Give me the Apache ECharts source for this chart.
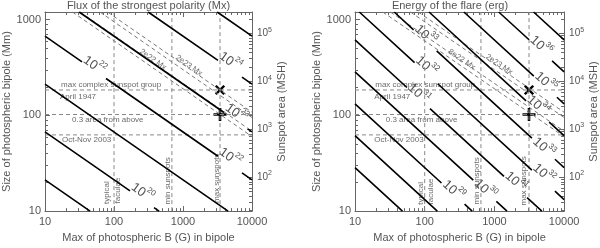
<!DOCTYPE html>
<html><head><meta charset="utf-8">
<script src="https://cdn.jsdelivr.net/npm/echarts@6/dist/echarts.min.js"></script>
<style>html,body{margin:0;padding:0;background:#fff}#c{width:600px;height:248px}</style>
</head><body><div id="c"></div>
<script>
// ---------- data ----------
// Left panel: flux contours (B [G], L [Mm]) segments, gaps where labels sit
const fluxSegments = [
  [[10,21.2],[45,10]],
  [[10,67.1],[170.6,16.24]], [[380.2,10.88],[450,10]],
  [[10,212],[4500,10]],
  [[10,671],[34.4,361.7]], [[76.6,242.4],[3214,37.42]], [[7161,25.07],[10000,21.2]],
  [[31.25,1200],[3926,107.1]], [[8750,71.7],[10000,67.1]],
  [[312.5,1200],[3214,374.2]], [[7161,250.7],[10000,212]],
  [[3125,1200],[10000,671]]
];
const fluxLabels = [[254.7,15.6,'20'],[51.3,331,'22'],[4797,36.4,'22'],[5860,105,'23'],[4797,364,'24']];
// Right panel: energy contours
const energySegments = [
  [[10,28.4],[48,10]],
  [[10,61.3],[151.7,10]],
  [[10,132],[174.2,19.64]], [[373.3,11.82],[480,10]],
  [[10,284.4],[497.5,21.02]], [[1067,12.64],[1517,10]],
  [[10,612.6],[55.6,195.2]], [[119.1,117.5],[1374,23.0]], [[2944,13.84],[4796,10]],
  [[11.54,1200],[71.6,355.3]], [[153.5,213.7],[3451,26.82]], [[7396,16.14],[10000,13.2]],
  [[36.5,1200],[69.3,782.4]], [[148.6,470.4],[3451,57.8]], [[7396,34.77],[10000,28.4]],
  [[115.4,1200],[2851,141.4]], [[6109,85.1],[10000,61.3]],
  [[364.8,1200],[3681,257.0]], [[7889,154.6],[10000,132]],
  [[1154,1200],[3140,615.7]], [[6730,370.4],[10000,284.4]],
  [[3648,1200],[10000,612.6]]
];
const energyLabels = [[255,16.4,'29'],[728,16.8,'30'],[2010,20.2,'31'],[5050,24.5,'32'],[5050,46,'33'],
  [81.3,168,'31'],[105,324,'32'],[102,687,'33'],[4170,126,'34'],[5380,222,'35'],[4590,530,'36']];
// dashed flux lines (pairs around 8e22 Mx and 2e23 Mx)
const dashedFlux = [
  [[25,1200],[10000,60]], [[32.3,1200],[10000,68.2]],
  [[62.5,1200],[10000,94.9]], [[80.6,1200],[10000,107.7]]
];
const dashLabelsLeft = [[367,382,'2e22 Mx'],[1222,331,'2e23 Mx']];
const dashLabelsRight = [[340,382,'8e22 Mx'],[1172,340,'2e23 Mx']];
// reference lines
const refBLeft = [100, 690, 3440];
const refBRight = [100, 641, 3140];
const refL = [184, 102, 62.5];
// annotations
const notesLeft = [[17.1,207,'max complex sunspot group'],[16.5,156,'April 1947'],[24.6,88.9,'0.3 area from above'],[17.6,55.6,'Oct-Nov 2003']];
const notesRight = [[19.5,207,'max complex sunspot group'],[18.9,156,'April 1947'],[27.6,88.9,'0.3 area from above'],[18.9,55.6,'Oct-Nov 2003']];
const vnotesLeft = [[79.3,15.6,'typical'],[114,16.4,'faculae'],[607,20.7,'min sunspots'],[3110,22,'max sunspots']];
const vnotesRight = [[86.7,15.3,'typical'],[123,16.0,'faculae'],[565,20.7,'min sunspots'],[2680,20.7,'max sunspots']];
const plusLeft = [[3440,102]], crossLeft = [[3440,184]];
const plusRight = [[3140,102]], crossRight = [[3140,184]];
// axes
const bRange = [10, 10000];
const lRange = [10, 1200];
const areaRange = [19.3, 277900];
const minorB = [20,30,40,50,60,70,80,90,200,300,400,500,600,700,800,900,2000,3000,4000,5000,6000,7000,8000,9000];
const minorL = [20,30,40,50,60,70,80,90,200,300,400,500,600,700,800,900];
const minorArea = [20,30,40,50,60,70,80,90,200,300,400,500,600,700,800,900,2000,3000,4000,5000,6000,7000,8000,9000,
  20000,30000,40000,50000,60000,70000,80000,90000,200000];
// ---------- chart ----------
const FONT = 'Liberation Sans';
const TXT = '#555';
const FRAME = '#666';
function isPow10(v){const l=Math.log10(v);return Math.abs(l-Math.round(l))<1e-6;}
function segData(segs){const d=[];segs.forEach(s=>{s.forEach(p=>d.push(p));d.push('-');});return d;}
function refData(bs, ls){const segs=[];bs.forEach(b=>segs.push([[b,lRange[0]],[b,lRange[1]]]));ls.forEach(l=>segs.push([[bRange[0],l],[bRange[1],l]]));return segData(segs);}
const supRich = {b:{fontSize:13,fontFamily:FONT,color:'#222',lineHeight:20},s:{fontSize:8,fontFamily:FONT,color:'#222',verticalAlign:'top',lineHeight:9}};

function panelAxes(gi){
  const xs=[{gridIndex:gi,type:'log',min:bRange[0],max:bRange[1],position:'bottom',
      name:'Max of photospheric B (G) in bipole',nameLocation:'middle',nameGap:17,
      nameTextStyle:{fontSize:11,fontFamily:FONT,color:TXT},
      axisLine:{lineStyle:{color:FRAME,width:1}},axisTick:{inside:true,length:5,lineStyle:{color:FRAME}},
      axisLabel:{fontSize:11,fontFamily:FONT,color:TXT,margin:5,formatter:v=>isPow10(v)?String(Math.round(v)):''},splitLine:{show:false}},
    {gridIndex:gi,type:'log',min:bRange[0],max:bRange[1],position:'top',
      axisLine:{lineStyle:{color:FRAME,width:1}},axisTick:{inside:true,length:5,lineStyle:{color:FRAME}},
      axisLabel:{show:false},splitLine:{show:false}}];
  const ys=[{gridIndex:gi,type:'log',min:lRange[0],max:lRange[1],position:'left',
      name:'Size of photospheric bipole (Mm)',nameLocation:'middle',nameGap:32,nameRotate:90,
      nameTextStyle:{fontSize:11,fontFamily:FONT,color:TXT},
      axisLine:{lineStyle:{color:FRAME,width:1}},axisTick:{inside:true,length:5,lineStyle:{color:FRAME}},
      axisLabel:{fontSize:11,fontFamily:FONT,color:TXT,margin:4,formatter:v=>isPow10(v)?String(Math.round(v)):''},splitLine:{show:false}},
    {gridIndex:gi,type:'log',min:areaRange[0],max:areaRange[1],position:'right',
      name:'Sunspot area (MSH)',nameLocation:'middle',nameGap:gi===0?24:20,nameRotate:90,
      nameTextStyle:{fontSize:11,fontFamily:FONT,color:TXT},
      axisLine:{lineStyle:{color:FRAME,width:1}},axisTick:{inside:true,length:5,lineStyle:{color:FRAME}},
      axisLabel:{margin:5,formatter:v=>isPow10(v)?'{b|10}{s|'+Math.round(Math.log10(v))+'}':'',
        rich:{b:{fontSize:10,fontFamily:FONT,color:TXT,lineHeight:14},s:{fontSize:7,fontFamily:FONT,color:TXT,verticalAlign:'top',lineHeight:8}}},
      splitLine:{show:false}}];
  return {xs, ys};
}
const a0=panelAxes(0), a1=panelAxes(1);

function tickSeries(xi, yi, vals, kind){
  return {type:'custom',xAxisIndex:xi,yAxisIndex:yi,silent:true,clip:false,
    data: vals.map(v=> kind==='x' ? [v,100] : (kind==='y' ? [bRange[0],v] : [bRange[1],v])),
    renderItem:(params,api)=>{
      const cs=params.coordSys;
      const st={stroke:FRAME,lineWidth:1};
      if(kind==='x'){
        const x=Math.round(api.coord([api.value(0),100])[0])+0.5;
        return {type:'group',children:[
          {type:'line',shape:{x1:x,y1:cs.y+cs.height,x2:x,y2:cs.y+cs.height-3},style:st},
          {type:'line',shape:{x1:x,y1:cs.y,x2:x,y2:cs.y+3},style:st}]};
      }
      const y=Math.round(api.coord([api.value(0),api.value(1)])[1])+0.5;
      if(kind==='y') return {type:'line',shape:{x1:cs.x,y1:y,x2:cs.x+3,y2:y},style:st};
      return {type:'line',shape:{x1:cs.x+cs.width,y1:y,x2:cs.x+cs.width-3,y2:y},style:st};
    }};
}
function labelSeries(xi, yi, items, label){
  return {type:'scatter',xAxisIndex:xi,yAxisIndex:yi,silent:true,symbolSize:1,
    itemStyle:{color:'rgba(0,0,0,0)'},
    data: items.map(it=>({value:[it[0],it[1]],name:it[2]})),
    label:Object.assign({show:true,position:'inside',fontFamily:FONT},label)};
}
const PLUS='path://M-1.3,-6.5H1.3V-1.3H6.5V1.3H1.3V6.5H-1.3V1.3H-6.5V-1.3H-1.3Z';

function panelSeries(xi, yi, ytop, segs, labels, labRot, dashLabels, dashRot, refB, notes, vnotes, plus, cross){
  return [
    {type:'line',xAxisIndex:xi,yAxisIndex:yi,silent:true,symbol:'none',connectNulls:false,
      data:refData(refB, refL),lineStyle:{color:'#888',width:1,type:[4,3]}},
    {type:'line',xAxisIndex:xi,yAxisIndex:yi,silent:true,symbol:'none',connectNulls:false,
      data:segData(dashedFlux),lineStyle:{color:'#777',width:1,type:[4,3]}},
    {type:'line',xAxisIndex:xi,yAxisIndex:yi,silent:true,symbol:'none',connectNulls:false,
      data:segData(segs),lineStyle:{color:'#000',width:1.6}},
    labelSeries(xi,yi,labels,{rotate:labRot,formatter:p=>'{b|10}{s|'+p.name+'}',rich:supRich}),
    labelSeries(xi,yi,dashLabels,{rotate:dashRot,formatter:p=>p.name,fontSize:8,color:'#444'}),
    labelSeries(xi,yi,notes,{align:'left',formatter:p=>p.name,fontSize:8,color:'#444'}),
    labelSeries(xi,yi,vnotes,{rotate:90,formatter:p=>p.name,fontSize:8,color:'#444'}),
    {type:'scatter',xAxisIndex:xi,yAxisIndex:yi,silent:true,symbol:PLUS,symbolSize:13,itemStyle:{color:'#000',opacity:1},data:plus},
    {type:'scatter',xAxisIndex:xi,yAxisIndex:yi,silent:true,symbol:PLUS,symbolSize:12,symbolRotate:45,itemStyle:{color:'#000',opacity:1},data:cross},
    tickSeries(xi,yi,minorB,'x'),
    tickSeries(xi,yi,minorL,'y'),
    tickSeries(xi,ytop,minorArea,'a')
  ];
}

const chart = echarts.init(document.getElementById('c'), null, {renderer:'canvas'});
chart.setOption({
  animation:false,
  backgroundColor:'#fff',
  grid:[{left:45,top:12,width:207,height:204},{left:355,top:12,width:217,height:204}],
  xAxis:[a0.xs[0],a0.xs[1],a1.xs[0],a1.xs[1]],
  yAxis:[a0.ys[0],a0.ys[1],a1.ys[0],a1.ys[1]],
  graphic:[
    {type:'text',x:148.5,y:0,style:{text:'Flux of the strongest polarity (Mx)',fontSize:11,fontFamily:FONT,fill:TXT,textAlign:'center',textVerticalAlign:'top'}},
    {type:'text',x:450,y:0,style:{text:'Energy of the flare (erg)',fontSize:11,fontFamily:FONT,fill:TXT,textAlign:'center',textVerticalAlign:'top'}}
  ],
  series:[].concat(
    panelSeries(0,0,1,fluxSegments,fluxLabels,-35.4,dashLabelsLeft,-35.4,refBLeft,notesLeft,vnotesLeft,plusLeft,crossLeft),
    panelSeries(2,2,3,energySegments,energyLabels,-42,dashLabelsRight,-34,refBRight,notesRight,vnotesRight,plusRight,crossRight)
  )
});
</script></body></html>
